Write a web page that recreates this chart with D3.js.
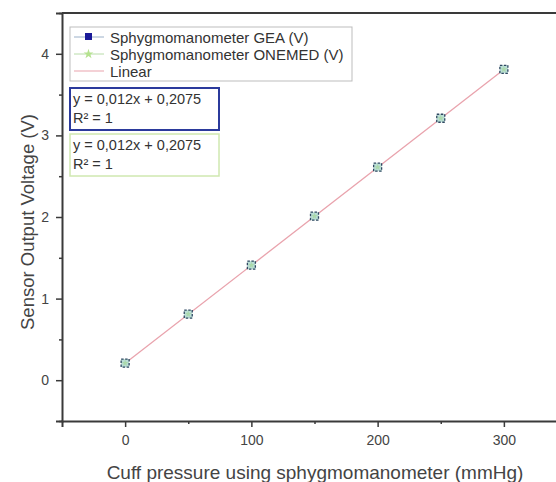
<!DOCTYPE html>
<html>
<head>
<meta charset="utf-8">
<script src="https://cdn.jsdelivr.net/npm/d3@7"></script>
<style>
  body { margin: 0; background: #fff; }
  svg { font-family: "Liberation Sans", Arial, sans-serif; }
</style>
</head>
<body>
<div id="chart"></div>
<script>
// data
var pressure = [0, 50, 100, 150, 200, 250, 300];
var geaVolt = [0.21, 0.81, 1.41, 2.01, 2.61, 3.21, 3.81];
var onemedVolt = [0.21, 0.81, 1.41, 2.01, 2.61, 3.21, 3.81];
var fitLine = [[0, 0.2075], [300, 3.8075]];
var xTicks = [0, 100, 200, 300];
var xMinor = [50, 150, 250];
var yTicks = [0, 1, 2, 3, 4];
var yMinor = [-0.5, 0.5, 1.5, 2.5, 3.5, 4.5];
var legendNames = ["Sphygmomanometer GEA (V)", "Sphygmomanometer ONEMED (V)", "Linear"];
var fitText = ["y = 0,012x + 0,2075", "R\u00b2 = 1"];

function init() {
    var w = 556, h = 482;
    var axisCol = "#3a3a3a";

    var svg = d3.select("#chart").append("svg")
        .attr("width", w)
        .attr("height", h);

    var x = d3.scaleLinear().domain([-50, 350]).range([62, 567]);
    var y = d3.scaleLinear().domain([-0.5, 4.5]).range([421, 13]);

    // frame lines (left, bottom, top; right side is cut off)
    svg.append("line").attr("x1", 62).attr("x2", w).attr("y1", 13).attr("y2", 13)
        .attr("stroke", axisCol).attr("stroke-width", 2);

    svg.append("g").attr("transform", "translate(0,421)")
        .call(d3.axisBottom(x).tickValues(xTicks).tickSize(6).tickPadding(8));
    svg.append("g").attr("transform", "translate(0,421)")
        .call(d3.axisBottom(x).tickValues(xMinor).tickSize(3).tickFormat(""))
        .select(".domain").remove();

    svg.append("g").attr("transform", "translate(62,0)")
        .call(d3.axisLeft(y).tickValues(yTicks).tickSize(6).tickPadding(7).tickFormat(d3.format("d")));
    svg.append("g").attr("transform", "translate(62,0)")
        .call(d3.axisLeft(y).tickValues(yMinor).tickSize(3).tickFormat(""))
        .select(".domain").remove();

    svg.selectAll(".domain").attr("stroke", axisCol).attr("stroke-width", 2);
    svg.selectAll(".tick line").attr("stroke", axisCol).attr("stroke-width", 1.5);
    svg.selectAll(".tick text").attr("fill", "#444").attr("font-size", 14)
        .attr("font-family", "Liberation Sans, Arial, sans-serif");

    // axis titles
    svg.append("text")
        .attr("x", 315).attr("y", 479)
        .attr("text-anchor", "middle")
        .attr("font-size", 19).attr("fill", "#444")
        .text("Cuff pressure using sphygmomanometer (mmHg)");

    svg.append("text")
        .attr("transform", "translate(34,222) rotate(-90)")
        .attr("text-anchor", "middle")
        .attr("font-size", 18.5).attr("fill", "#444")
        .text("Sensor Output Voltage (V)");

    // fitted line
    svg.append("path")
        .datum(fitLine)
        .attr("d", d3.line().x(d => x(d[0])).y(d => y(d[1])))
        .attr("stroke", "#e9a3ad").attr("stroke-width", 1.3).attr("fill", "none");

    // GEA points
    svg.selectAll(".gea")
        .data(pressure)
        .enter().append("rect")
        .attr("class", "gea")
        .attr("x", (d, i) => x(d) - 4)
        .attr("y", (d, i) => y(geaVolt[i]) - 4)
        .attr("width", 8).attr("height", 8)
        .attr("fill", "#b9ddd5")
        .attr("stroke", "#2f4862").attr("stroke-width", 1.3)
        .attr("stroke-dasharray", "2.5,1.5");

    // ONEMED points
    var star = d3.symbol().type(d3.symbolStar).size(14);
    svg.selectAll(".onemed")
        .data(pressure)
        .enter().append("path")
        .attr("class", "onemed")
        .attr("transform", (d, i) => `translate(${x(d)},${y(onemedVolt[i])})`)
        .attr("d", star)
        .attr("fill", "#a8d8a0").attr("opacity", 0.8);

    // legend
    var lg = svg.append("g");
    lg.append("rect").attr("x", 70).attr("y", 27).attr("width", 282).attr("height", 54)
        .attr("fill", "#fff").attr("stroke", "#bdbdbd").attr("stroke-width", 1);
    var rows = [37, 54, 71];
    var lineCols = ["#9bb0c8", "#b8dca8", "#e9a3ad"];
    legendNames.forEach(function (name, i) {
        lg.append("line").attr("x1", 74).attr("x2", 104)
            .attr("y1", rows[i]).attr("y2", rows[i])
            .attr("stroke", lineCols[i]).attr("stroke-width", 1);
        lg.append("text").attr("x", 110).attr("y", rows[i] + 5.5)
            .attr("font-size", 15).attr("fill", "#333").text(name);
    });
    lg.append("rect").attr("x", 85).attr("y", rows[0] - 4).attr("width", 7).attr("height", 7)
        .attr("fill", "#1a1a99");
    lg.append("path").attr("transform", `translate(88.5,${rows[1]})`)
        .attr("d", d3.symbol().type(d3.symbolStar).size(30))
        .attr("fill", "#b5e28f");

    // fit boxes
    var boxes = [{top: 88, stroke: "#2b3a9c", width: 2}, {top: 134, stroke: "#cfe8b0", width: 1.5}];
    boxes.forEach(function (b) {
        lg.append("rect").attr("x", 70).attr("y", b.top).attr("width", 149).attr("height", 42)
            .attr("fill", "#fff").attr("stroke", b.stroke).attr("stroke-width", b.width);
        fitText.forEach(function (t, j) {
            lg.append("text").attr("x", 73).attr("y", b.top + 16 + j * 19)
                .attr("font-size", 14.5).attr("fill", "#333").text(t);
        });
    });
}

window.onload = init;
</script>
</body>
</html>
